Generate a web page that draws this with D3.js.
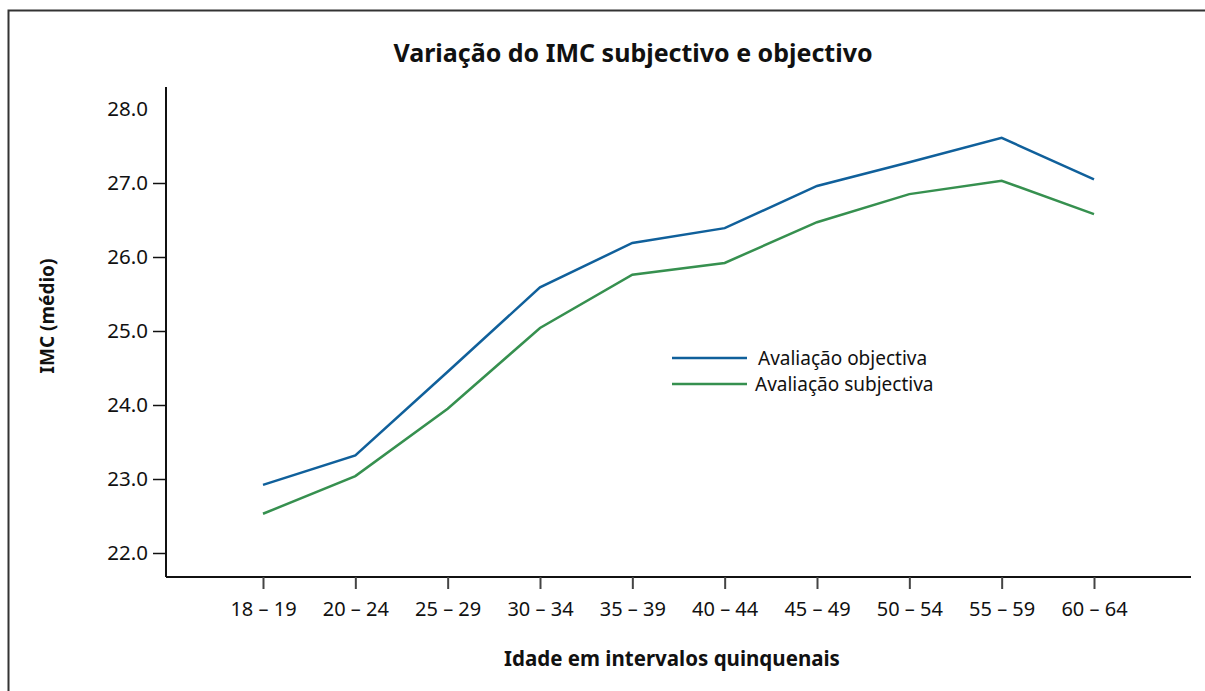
<!DOCTYPE html>
<html>
<head>
<meta charset="utf-8">
<script src="https://cdn.jsdelivr.net/npm/d3@7"></script>
<style>
  body { margin: 0; background: #fff; }
  svg { display: block; font-family: "Noto Sans", "Open Sans", sans-serif; }
</style>
</head>
<body>
<svg id="chart"></svg>
<script>
// age groups on the x axis
const ageGroups = ['18 – 19', '20 – 24', '25 – 29', '30 – 34', '35 – 39', '40 – 44', '45 – 49', '50 – 54', '55 – 59', '60 – 64']

// mean BMI
const objectiva = [22.92, 23.32, 24.45, 25.59, 26.19, 26.39, 26.96, 27.28, 27.61, 27.05]
const subjectiva = [22.53, 23.04, 23.95, 25.04, 25.76, 25.92, 26.47, 26.85, 27.03, 26.58]

const yTicks = [22, 23, 24, 25, 26, 27, 28]
const seriesNames = ['Avaliação objectiva', 'Avaliação subjectiva']
const seriesColors = ['#10609b', '#36904f']

const fontFamily = '"Noto Sans", "Open Sans", sans-serif'

const width = 1205
const height = 691

const svg = d3.select('#chart')
    .attr('width', width)
    .attr('height', height)

// frame around the whole figure (right and bottom edges fall off the page)
svg.append('rect')
    .attr('x', 8.5)
    .attr('y', 10.5)
    .attr('width', 1250)
    .attr('height', 720)
    .attr('fill', 'none')
    .attr('stroke', '#333')
    .attr('stroke-width', 2)

// plot area
const plot = { left: 166, right: 1191, top: 87, bottom: 577 }

const xScale = d3.scalePoint()
    .domain(ageGroups)
    .range([263, 1094])

const yScale = d3.scaleLinear()
    .domain([22, 28])
    .range([553, 109])

// x axis
const xAxis = d3.axisBottom(xScale)
    .tickSizeInner(12)
    .tickSizeOuter(0)
    .tickPadding(13)

const xAxisG = svg.append('g')
    .attr('transform', `translate(0, ${plot.bottom})`)
    .call(xAxis)
    .attr('font-family', fontFamily)

xAxisG.select('.domain')
    .attr('d', `M${plot.left},0H${plot.right}`)
    .attr('stroke', '#111')
    .attr('stroke-width', 2)
xAxisG.selectAll('.tick line').attr('stroke', '#444').attr('stroke-width', 2)
xAxisG.selectAll('.tick text')
    .attr('font-size', 20)
    .attr('fill', '#111')

// y axis
const yAxis = d3.axisLeft(yScale)
    .tickValues(yTicks)
    .tickFormat(d3.format('.1f'))
    .tickSizeInner(13)
    .tickSizeOuter(0)
    .tickPadding(5)

const yAxisG = svg.append('g')
    .attr('transform', `translate(${plot.left}, 0)`)
    .call(yAxis)
    .attr('font-family', fontFamily)

yAxisG.select('.domain')
    .attr('d', `M0,${plot.top}V${plot.bottom}`)
    .attr('stroke', '#111')
    .attr('stroke-width', 2)
yAxisG.selectAll('.tick line')
    .attr('stroke', '#111')
    .attr('stroke-width', 1.5)
    .attr('display', d => d === 28 ? 'none' : null) // no tick mark at the top label
yAxisG.selectAll('.tick text')
    .attr('font-size', 20.5)
    .attr('fill', '#111')

// lines
const line = d3.line()
    .x((d, i) => xScale(ageGroups[i]))
    .y(d => yScale(d))

const allSeries = [objectiva, subjectiva]

svg.selectAll('.series')
    .data(allSeries)
    .enter()
    .append('path')
        .attr('class', 'series')
        .attr('d', d => line(d))
        .attr('fill', 'none')
        .attr('stroke', (d, i) => seriesColors[i])
        .attr('stroke-width', 2.5)

// legend
const legend = svg.append('g')
    .attr('transform', 'translate(672, 358)')

legend.selectAll('line')
    .data(seriesNames)
    .enter()
    .append('line')
        .attr('x1', 0)
        .attr('x2', 75)
        .attr('y1', (d, i) => i * 26)
        .attr('y2', (d, i) => i * 26)
        .attr('stroke', (d, i) => seriesColors[i])
        .attr('stroke-width', 2.5)

legend.selectAll('text')
    .data(seriesNames)
    .enter()
    .append('text')
        .attr('x', (d, i) => i === 0 ? 86 : 83)
        .attr('y', (d, i) => i * 26 + 7)
        .attr('font-size', 19)
        .attr('fill', '#111')
        .text(d => d)

// titles
svg.append('text')
    .attr('x', 633)
    .attr('y', 62)
    .attr('text-anchor', 'middle')
    .attr('font-size', 25)
    .attr('font-weight', 'bold')
    .attr('fill', '#111')
    .text('Variação do IMC subjectivo e objectivo')

svg.append('text')
    .attr('x', 672)
    .attr('y', 666)
    .attr('text-anchor', 'middle')
    .attr('font-size', 20.5)
    .attr('font-weight', 'bold')
    .attr('fill', '#111')
    .text('Idade em intervalos quinquenais')

svg.append('text')
    .attr('transform', 'translate(54, 316) rotate(-90)')
    .attr('text-anchor', 'middle')
    .attr('font-size', 19)
    .attr('font-weight', 'bold')
    .attr('fill', '#111')
    .text('IMC (médio)')
</script>
</body>
</html>
